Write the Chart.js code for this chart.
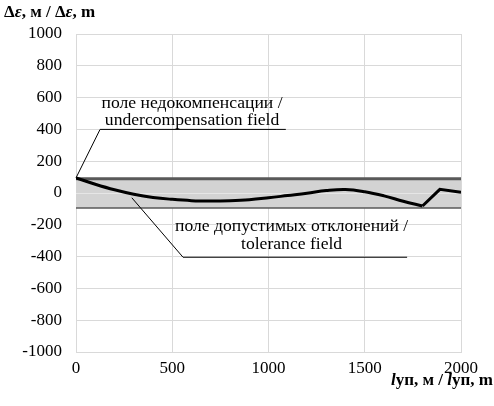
<!DOCTYPE html>
<html>
<head>
<meta charset="utf-8">
<script src="https://cdn.jsdelivr.net/npm/chart.js@4.4.1/dist/chart.umd.min.js"></script>
<style>
  html, body { margin: 0; padding: 0; background: #fff; }
  #wrap { width: 494px; height: 406px; }
</style>
</head>
<body>
<div id="wrap"><canvas id="chart" width="494" height="406"></canvas></div>
<script>
// chart values
var lenX   = [0, 100, 200, 300, 400, 500, 600, 700, 800, 900, 1000, 1100, 1200, 1300, 1400, 1500, 1600, 1700, 1800];
var deltaE = [95, 55, 20, -8, -28, -40, -48, -50, -48, -42, -30, -16, -2, 15, 22, 8, -18, -52, -82];
var tailX  = [1800, 1890, 2000];
var tailE  = [-82, 23, 5];
var bandX     = [0, 2000];
var bandUpper = [90, 90];
var bandLower = [-90, -90];
var xTicks = [0, 500, 1000, 1500, 2000];
var yTicks = [-1000, -800, -600, -400, -200, 0, 200, 400, 600, 800, 1000];

var serif = "'Liberation Serif', 'Times New Roman', serif";

function pts(xs, ys) {
    var out = [];
    for (var i = 0; i < xs.length; i++) out.push({x: xs[i], y: ys[i]});
    return out;
}

// annotations: leader line start, underline, two text lines (in data units)
var notes = [
    {from: [0, 95], to: [125, 400], lineEnd: 1090, lines: ["поле недокомпенсации /", "undercompensation field"], cx: 603, ys: [565, 455]},
    {from: [290, -30], to: [556, -404], lineEnd: 1720, lines: ["поле допустимых отклонений /", "tolerance field"], cx: 1120, ys: [-210, -320]}
];

var notesPlugin = {
    id: 'notes',
    afterDatasetDraw: function (chart, args) {
        // light axis line at 0 shows over the band
        if (args.index !== 0) return;
        var ctx = chart.ctx, xs = chart.scales.x, ys = chart.scales.y;
        var y0 = Math.round(ys.getPixelForValue(0)) + 0.5;
        ctx.save();
        ctx.strokeStyle = '#e6e6e6';
        ctx.lineWidth = 1;
        ctx.beginPath();
        ctx.moveTo(xs.left, y0);
        ctx.lineTo(xs.right, y0);
        ctx.stroke();
        ctx.restore();
    },
    afterDatasetsDraw: function (chart) {
        var ctx = chart.ctx, xs = chart.scales.x, ys = chart.scales.y;
        ctx.save();
        ctx.strokeStyle = '#000';
        ctx.lineWidth = 1;
        notes.forEach(function (n) {
            ctx.beginPath();
            ctx.moveTo(xs.getPixelForValue(n.from[0]), ys.getPixelForValue(n.from[1]));
            ctx.lineTo(xs.getPixelForValue(n.to[0]), ys.getPixelForValue(n.to[1]));
            ctx.lineTo(xs.getPixelForValue(n.lineEnd), ys.getPixelForValue(n.to[1]));
            ctx.stroke();
            ctx.fillStyle = '#000';
            ctx.font = '17.6px ' + serif;
            ctx.textAlign = 'center';
            ctx.textBaseline = 'middle';
            n.lines.forEach(function (t, i) {
                ctx.fillText(t, xs.getPixelForValue(n.cx), ys.getPixelForValue(n.ys[i]));
            });
        });
        ctx.restore();
    },
    afterDraw: function (chart) {
        // axis titles with italic letters
        var ctx = chart.ctx;
        function run(parts, x, y, align) {
            var w = 0;
            parts.forEach(function (p) { ctx.font = p[1] + ' 17px ' + serif; w += ctx.measureText(p[0]).width; });
            var cx = align === 'right' ? x - w : x;
            ctx.textAlign = 'left';
            ctx.textBaseline = 'middle';
            ctx.fillStyle = '#000';
            parts.forEach(function (p) {
                ctx.font = p[1] + ' 17px ' + serif;
                ctx.fillText(p[0], cx, y);
                cx += ctx.measureText(p[0]).width;
            });
        }
        ctx.save();
        run([["Δ", "bold"], ["ε", "italic bold"], [", м / Δ", "bold"], ["ε", "italic bold"], [", m", "bold"]], 4, 13, 'left');
        run([["l", "italic bold"], ["уп, м / ", "bold"], ["l", "italic bold"], ["уп, m", "bold"]], 493, 381, 'right');
        ctx.restore();
    }
};

new Chart(document.getElementById('chart'), {
    type: 'line',
    data: {
        datasets: [
            {data: pts(bandX, bandUpper), order: 2, borderColor: '#595959', borderWidth: 3, backgroundColor: '#d3d3d3', fill: '+1', pointRadius: 0, tension: 0},
            {data: pts(bandX, bandLower), order: 2, borderColor: '#595959', borderWidth: 3, fill: false, pointRadius: 0, tension: 0},
            {data: pts(lenX, deltaE), order: 0, borderColor: '#000', borderWidth: 3, fill: false, pointRadius: 0, tension: 0.4},
            {data: pts(tailX, tailE), order: 0, borderColor: '#000', borderWidth: 3, fill: false, pointRadius: 0, tension: 0}
        ]
    },
    options: {
        responsive: false,
        animation: false,
        layout: {padding: {top: 34, right: 33, left: 0, bottom: 0}},
        plugins: {legend: {display: false}, tooltip: {enabled: false}},
        scales: {
            x: {
                type: 'linear', min: 0, max: 2000,
                afterBuildTicks: function (s) { s.ticks = xTicks.map(function (v) { return {value: v}; }); },
                grid: {color: '#d9d9d9', lineWidth: 1, drawTicks: false},
                border: {color: '#d9d9d9'},
                ticks: {color: '#000', font: {family: serif, size: 17}, padding: 6, maxRotation: 0,
                        callback: function (v) { return String(v); }},
                afterFit: function (s) { s.height = 54; }
            },
            y: {
                min: -1000, max: 1000,
                afterBuildTicks: function (s) { s.ticks = yTicks.map(function (v) { return {value: v}; }); },
                grid: {color: '#d9d9d9', lineWidth: 1, drawTicks: false},
                border: {color: '#d9d9d9'},
                ticks: {color: '#000', font: {family: serif, size: 17}, padding: 14,
                        callback: function (v) { return String(v); }},
                afterFit: function (s) { s.width = 76; }
            }
        }
    },
    plugins: [notesPlugin]
});
</script>
</body>
</html>
